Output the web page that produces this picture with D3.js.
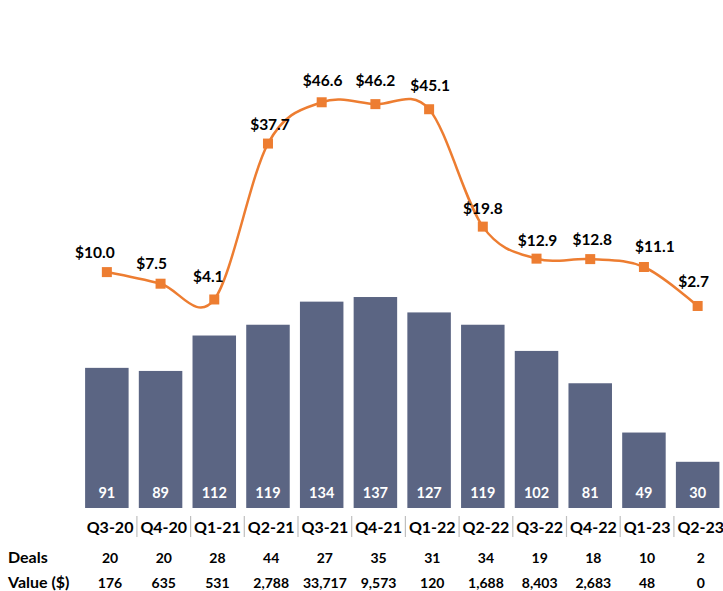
<!DOCTYPE html>
<html><head><meta charset="utf-8">
<script src="https://cdn.jsdelivr.net/npm/d3@7"></script>
<style>
html,body{margin:0;padding:0;background:#fff;}
svg{display:block;font-family:Lato,"Open Sans",sans-serif;font-weight:bold;}
</style></head>
<body><svg id="chart" width="723" height="591"></svg>
<script>
const quarters = ["Q3-20","Q4-20","Q1-21","Q2-21","Q3-21","Q4-21","Q1-22","Q2-22","Q3-22","Q4-22","Q1-23","Q2-23"];
const barValues = [91,89,112,119,134,137,127,119,102,81,49,30];
const lineValues = [10.0,7.5,4.1,37.7,46.6,46.2,45.1,19.8,12.9,12.8,11.1,2.7];
const deals = [20,20,28,44,27,35,31,34,19,18,10,2];
const valueRow = ["176","635","531","2,788","33,717","9,573","120","1,688","8,403","2,683","48","0"];
const rowLabels = ["Deals","Value ($)"];

// layout: manual label nudges (pixels) as placed in the original
const labelDx = [-12,-9,-6,2,1,0,1,0,1,2,11,-4];
const labelDy = [-14,-15,-17,-14,-16,-18,-18,-13,-13,-14,-15,-19];

const svg = d3.select("#chart");
const barColor = "#5B6583", lineColor = "#ED7D31";

const x = d3.scaleBand().domain(quarters).range([80, 724.5]).paddingInner(0.19).paddingOuter(0.095);
const xt = d3.scaleBand().domain(quarters).range([83.2, 727.6]);
const yBar = d3.scaleLinear().domain([0, 200]).range([508, 200]);
const yLine = d3.scaleLinear().domain([0, 50]).range([318.5, 86.5]);
const cx = q => x(q) + x.bandwidth()/2;

// bars
svg.append("g").selectAll("rect").data(quarters).join("rect")
  .attr("x", q => x(q)).attr("width", x.bandwidth())
  .attr("y", (q,i) => yBar(barValues[i])).attr("height", (q,i) => yBar(0) - yBar(barValues[i]))
  .attr("fill", barColor);

svg.append("g").selectAll("text").data(quarters).join("text")
  .attr("x", cx).attr("y", yBar(0) - 10).attr("text-anchor","middle")
  .attr("fill","#fff").attr("font-size",14.5).text((q,i) => barValues[i]);

// line
const line = d3.line().x((d,i) => cx(quarters[i])).y(d => yLine(d)).curve(d3.curveCatmullRom.alpha(0));
svg.append("path").datum(lineValues).attr("d", line).attr("fill","none")
  .attr("stroke", lineColor).attr("stroke-width", 2.5);

svg.append("g").selectAll("rect").data(lineValues).join("rect")
  .attr("x", (d,i) => cx(quarters[i]) - 5).attr("y", d => yLine(d) - 5)
  .attr("width", 10).attr("height", 10).attr("fill", lineColor);

svg.append("g").selectAll("text").data(lineValues).join("text")
  .attr("x", (d,i) => cx(quarters[i]) + labelDx[i]).attr("y", (d,i) => yLine(d) + labelDy[i])
  .attr("text-anchor","middle").attr("font-size",15.5).attr("fill","#000")
  .text(d => "$" + d.toFixed(1));

// table
svg.append("g").selectAll("text").data(quarters).join("text")
  .attr("x", q => xt(q) + xt.bandwidth()/2).attr("y", 533).attr("text-anchor","middle")
  .attr("font-size",16).attr("fill","#000").text(q => q);

svg.append("g").selectAll("line").data(quarters.slice(1)).join("line")
  .attr("x1", q => xt(q)).attr("x2", q => xt(q)).attr("y1", 516).attr("y2", 537)
  .attr("stroke","#BFBFBF").attr("stroke-width",1.2);

svg.append("g").selectAll("text").data(deals).join("text")
  .attr("x", (d,i) => xt(quarters[i]) + xt.bandwidth()/2).attr("y", 563).attr("text-anchor","middle")
  .attr("font-size",14).attr("fill","#000").text(d => d);

svg.append("g").selectAll("text").data(valueRow).join("text")
  .attr("x", (d,i) => xt(quarters[i]) + xt.bandwidth()/2).attr("y", 588).attr("text-anchor","middle")
  .attr("font-size",14).attr("fill","#000").text(d => d);

svg.append("g").selectAll("text").data(rowLabels).join("text")
  .attr("x", 8).attr("y", (d,i) => i ? 588 : 563)
  .attr("font-size",16).attr("fill","#000").text(d => d);
</script></body></html>
